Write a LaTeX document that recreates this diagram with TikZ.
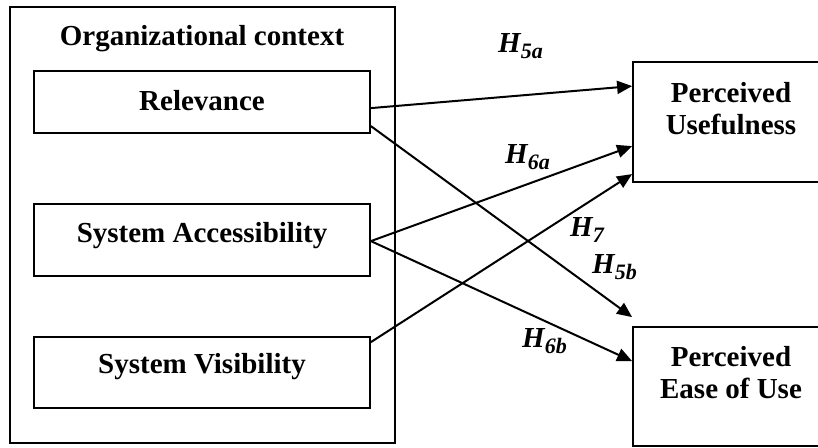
\documentclass[tikz,border=0pt]{standalone}
\usepackage{fontspec}
\setmainfont{Liberation Serif}
\usetikzlibrary{arrows.meta,calc}
\newcommand{\hyp}[1]{\textit{H\raisebox{-0.22em}{\fontsize{22}{22}\selectfont #1}}}
\begin{document}
\begin{tikzpicture}[
		x=1pt,y=-1pt,
		font=\fontsize{29}{32.5}\selectfont\bfseries,
		box/.style={draw,line width=1.8pt,inner sep=0pt},
		word/.style={inner sep=0pt,anchor=base},
		link/.style={line width=2pt,-{Triangle[length=15pt,width=13pt]}}
	]
	\useasboundingbox (0,0) rectangle (818,447);
	\clip (0,0) rectangle (818,447);
	% organizational context
	\node[box,minimum width=385,minimum height=436] (org) at (202.5,225) {};
	\node[word] (orgtext) at (202,45) {Organizational context};
	\node[box,minimum width=336,minimum height=62] (rel) at (202,102) {};
	\node[word] (reltext) at (202,110) {Relevance};
	\node[box,minimum width=336,minimum height=72] (acc) at (202,240) {};
	\node[word] (acctext) at (202,242) {System Accessibility};
	\node[box,minimum width=336,minimum height=71] (vis) at (202,372.5) {};
	\node[word] (vistext) at (202,373) {System Visibility};
	% outcomes
	\node[box,minimum width=200,minimum height=120] (pu) at (733,122) {};
	\node[inner sep=0pt,anchor=north,align=center] (putext) at (731,82) {Perceived\\Usefulness};
	\node[box,minimum width=200,minimum height=119] (peou) at (733,386.5) {};
	\node[inner sep=0pt,anchor=north,align=center] (peoutext) at (731,346) {Perceived\\Ease of Use};
	% paths
	\draw[link] ($(rel.north east)+(0,38)$) -- ($(pu.north west)+(0,25)$);
	\draw[link] ($(rel.north east)+(0,56)$) -- ($(peou.north west)+(0,-9)$);
	\draw[link] ($(acc.north east)+(0,38)$) -- ($(pu.north west)+(0,85)$);
	\draw[link] ($(acc.north east)+(0,38)$) -- ($(peou.north west)+(0,35)$);
	\draw[link] ($(vis.north east)+(0,6)$) -- ($(pu.north west)+(0,113)$);
	% labels
	\node[word,anchor=base west] (h5a) at (498,52) {\hyp{5a}};
	\node[word,anchor=base west] (h6a) at (505,163) {\hyp{6a}};
	\node[word,anchor=base west] (h7) at (570,236) {\hyp{7}};
	\node[word,anchor=base west] (h5b) at (592,273) {\hyp{5b}};
	\node[word,anchor=base west] (h6b) at (522,347) {\hyp{6b}};
\end{tikzpicture}
\end{document}
